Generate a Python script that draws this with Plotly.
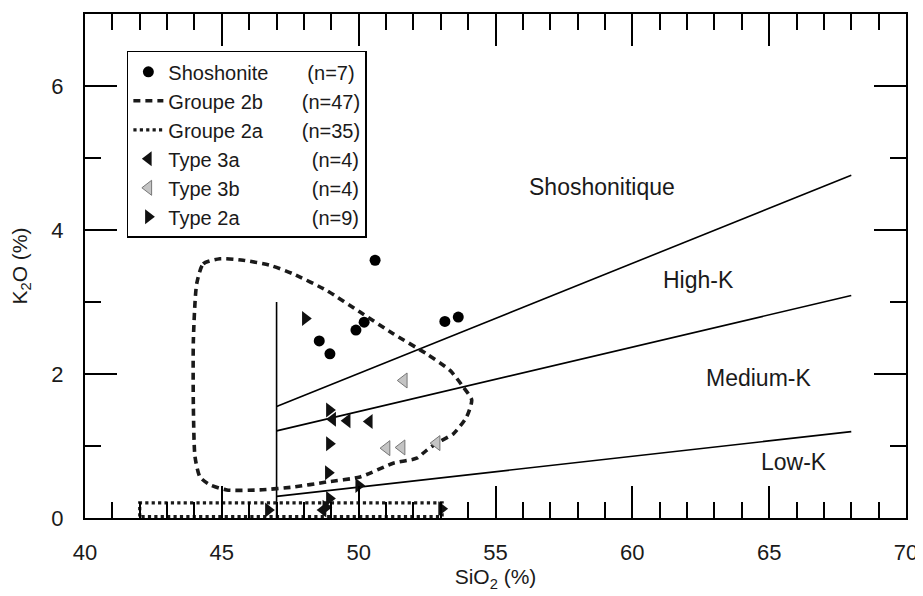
import plotly.graph_objects as go

# ---------------- data ----------------
shosh_x = [50.6, 53.15, 53.64, 49.9, 50.2, 48.56, 48.95]
shosh_y = [3.58, 2.73, 2.79, 2.61, 2.72, 2.46, 2.28]

t2a_x = [48.05, 48.93, 48.93, 48.89, 50.0, 48.93, 46.7, 53.03, 48.8]
t2a_y = [2.77, 1.50, 1.03, 0.63, 0.45, 0.27, 0.11, 0.13, 0.15]

t3a_x = [49.05, 49.58, 50.39, 48.7]
t3a_y = [1.37, 1.35, 1.34, 0.11]

t3b_x = [51.65, 51.02, 51.57, 52.85]
t3b_y = [1.91, 0.97, 0.98, 1.04]

# Groupe 2b field outline (dashed)
g2b_x = [44.08, 44.32, 44.93, 45.78, 46.76, 47.61, 48.83, 50.05, 51.26, 52.48, 53.34, 53.82,
         54.13, 53.94, 53.46, 52.85, 52.48, 52.12, 51.26, 50.05, 48.83, 47.61, 46.39, 45.18,
         44.57, 44.2, 44.02, 43.96, 43.96, 44.08]
g2b_y = [3.25, 3.53, 3.60, 3.58, 3.51, 3.39, 3.16, 2.86, 2.56, 2.28, 2.05, 1.82,
         1.64, 1.40, 1.17, 1.04, 0.94, 0.83, 0.76, 0.57, 0.50, 0.43, 0.39, 0.39,
         0.46, 0.57, 0.85, 1.54, 2.47, 3.25]

# Groupe 2a field outline (dotted)
g2a_x = [42.0, 42.0, 53.05, 53.05, 42.0]
g2a_y = [0.02, 0.21, 0.21, 0.02, 0.02]

# classification boundaries (SiO2, K2O)
div_x = [47.0, 47.0]
div_y = [0.0, 3.0]
shosh_hk_x = [47.0, 68.0]
shosh_hk_y = [1.55, 4.76]
hk_mk_x = [47.0, 68.0]
hk_mk_y = [1.21, 3.09]
mk_lk_x = [47.0, 68.0]
mk_lk_y = [0.30, 1.20]

series_labels = ["Shoshonitique", "High-K", "Medium-K", "Low-K"]
label_x = [58.9, 62.4, 64.6, 65.9]
label_y = [4.6, 3.3, 1.95, 0.78]

legend_names = ["Shoshonite", "Groupe 2b", "Groupe 2a", "Type 3a", "Type 3b", "Type 2a"]
legend_counts = ["(n=7)", "(n=47)", "(n=35)", "(n=4)", "(n=4)", "(n=9)"]
legend_pad = [7, 7, 7, 13, 13, 13]

x_ticks = [40, 45, 50, 55, 60, 65, 70]
y_ticks = [0, 2, 4, 6]

FONT = "Liberation Sans, Arial, sans-serif"
NB = "\u00a0"
TXT = "#1a1a1a"


def lname(i):
    return legend_names[i] + NB * legend_pad[i] + legend_counts[i]


fig = go.Figure()

line_style = dict(color="black", width=1.6)
for xs, ys in [(div_x, div_y), (shosh_hk_x, shosh_hk_y), (hk_mk_x, hk_mk_y), (mk_lk_x, mk_lk_y)]:
    fig.add_trace(go.Scatter(x=xs, y=ys, mode="lines", line=line_style,
                             showlegend=False, hoverinfo="skip"))

fig.add_trace(go.Scatter(x=shosh_x, y=shosh_y, mode="markers", name=lname(0),
                         marker=dict(symbol="circle", size=11, color="black"), legendrank=1))
fig.add_trace(go.Scatter(x=g2b_x, y=g2b_y, mode="lines", name=lname(1),
                         line=dict(color="#1a1a1a", width=3.6, dash="7px,5px", shape="spline", smoothing=0.6),
                         legendrank=2))
fig.add_trace(go.Scatter(x=g2a_x, y=g2a_y, mode="lines", name=lname(2),
                         line=dict(color="#1a1a1a", width=3.2, dash="dot"), legendrank=3))
fig.add_trace(go.Scatter(x=t3a_x, y=t3a_y, mode="markers", name=lname(3),
                         marker=dict(symbol="triangle-left", size=13, color="#111"), legendrank=4))
fig.add_trace(go.Scatter(x=t3b_x, y=t3b_y, mode="markers", name=lname(4),
                         marker=dict(symbol="triangle-left", size=13, color="#c4c4c4",
                                     line=dict(color="#777", width=1)), legendrank=5))
fig.add_trace(go.Scatter(x=t2a_x, y=t2a_y, mode="markers", name=lname(5),
                         marker=dict(symbol="triangle-right", size=13, color="#111"), legendrank=6))

for t, xx, yy in zip(series_labels, label_x, label_y):
    fig.add_annotation(x=xx, y=yy, text=t, showarrow=False, xanchor="center", yanchor="middle",
                       font=dict(size=23, color=TXT, family=FONT))

tick_common = dict(ticks="inside", ticklen=32, tickwidth=2, tickcolor="black",
                   showgrid=False, zeroline=False)
minor_common = dict(ticks="inside", ticklen=16, tickwidth=2, tickcolor="black", dtick=1)

fig.update_xaxes(range=[40, 70], tickmode="array", tickvals=x_ticks,
                 ticktext=[str(v) for v in x_ticks],
                 showline=True, linecolor="black", linewidth=2, mirror=True,
                 minor=minor_common, automargin=False,
                 tickfont=dict(size=22, family=FONT, color=TXT),
                 title=dict(text="SiO<sub>2</sub> (%)", font=dict(size=21, family=FONT, color=TXT),
                            standoff=4),
                 ticklabelstandoff=14, **tick_common)
fig.update_yaxes(range=[0, 7], tickmode="array", tickvals=y_ticks,
                 ticktext=[str(v) for v in y_ticks],
                 showline=True, linecolor="black", linewidth=2, mirror=True,
                 minor=minor_common, automargin=False,
                 tickfont=dict(size=22, family=FONT, color=TXT),
                 title=dict(text="K<sub>2</sub>O (%)", font=dict(size=21, family=FONT, color=TXT),
                            standoff=19),
                 ticklabelstandoff=15, **tick_common)

# mirrored tick marks (major + minor) on top and right
fig.update_layout(
    xaxis2=dict(overlaying="x", side="top", range=[40, 70], tickmode="array", tickvals=x_ticks,
                showticklabels=False, minor=minor_common, automargin=False, **tick_common),
    yaxis2=dict(overlaying="y", side="right", range=[0, 7], tickmode="array", tickvals=y_ticks,
                showticklabels=False, minor=minor_common, automargin=False, **tick_common),
)
fig.add_trace(go.Scatter(x=[None], y=[None], xaxis="x2", yaxis="y2", showlegend=False,
                         hoverinfo="skip"))

# the page body adds an 8px margin on the left and top; the figure is sized to compensate
fig.update_layout(
    width=915, height=588,
    margin=dict(l=77, r=17, t=6, b=78),
    paper_bgcolor="white", plot_bgcolor="white",
    font=dict(family=FONT, size=20, color=TXT),
    legend=dict(x=0.051, y=0.927, xanchor="left", yanchor="top",
                bordercolor="black", borderwidth=1.5, bgcolor="white",
                font=dict(size=20, family=FONT, color=TXT),
                tracegroupgap=0, itemwidth=30),
)

fig.write_html("out.html")
